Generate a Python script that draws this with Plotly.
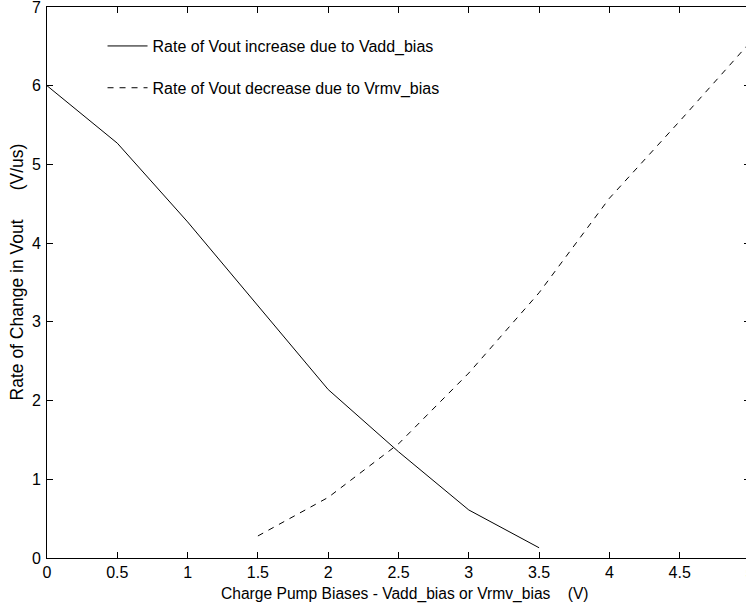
import plotly.graph_objects as go

# Data
x_add = [0, 0.5, 1, 1.5, 2, 2.5, 3, 3.5]
y_add = [6.0, 5.27, 4.27, 3.2, 2.14, 1.35, 0.61, 0.13]
x_rmv = [1.5, 2, 2.5, 3, 3.5, 4, 4.5, 5]
y_rmv = [0.28, 0.77, 1.45, 2.35, 3.37, 4.57, 5.55, 6.55]

name_add = "Rate of Vout increase due to Vadd_bias"
name_rmv = "Rate of Vout decrease due to Vrmv_bias"
x_ticks = [0, 0.5, 1, 1.5, 2, 2.5, 3, 3.5, 4, 4.5, 5]
x_ticktext = ["0", "0.5", "1", "1.5", "2", "2.5", "3", "3.5", "4", "4.5", "5"]
y_ticks = [0, 1, 2, 3, 4, 5, 6, 7]

NB = "\u00a0"
x_title = "Charge Pump Biases - Vadd_bias or Vrmv_bias" + NB * 4 + "(V)"
y_title = "Rate of Change in Vout" + NB * 6 + "(V/us)"

FONT = "Liberation Sans, Arial, Helvetica, sans-serif"
FS = 16

fig = go.Figure()
fig.add_trace(go.Scatter(x=x_add, y=y_add, mode="lines", name=name_add,
                         legendgroup="a",
                         line=dict(color="black", width=1)))
fig.add_trace(go.Scatter(x=x_rmv, y=y_rmv, mode="lines", name=name_rmv,
                         legendgroup="b",
                         line=dict(color="black", width=1, dash="6px,6px")))

axis_common = dict(showline=True, linecolor="black", linewidth=1,
                   mirror="ticks", ticks="inside", ticklen=6, tickcolor="black",
                   tickwidth=1, showgrid=False, zeroline=False,
                   automargin=False,
                   ticklabeloverflow="allow",
                   tickfont=dict(family=FONT, size=FS, color="black"))

fig.update_xaxes(range=[0, 5], tickvals=x_ticks, ticktext=x_ticktext,
                 ticklabelstandoff=0, **axis_common)
fig.update_yaxes(range=[0, 7], tickvals=y_ticks, ticklabelstandoff=2,
                 **axis_common)

# axis titles placed as annotations (offset from the plot centre as in the reference)
fig.add_annotation(text=x_title, xref="paper", yref="paper",
                   x=0.509, y=-0.0653, xanchor="center", yanchor="middle",
                   showarrow=False,
                   font=dict(family=FONT, size=15.6, color="black"))
fig.add_annotation(text=y_title, xref="paper", yref="paper",
                   x=-0.0413, y=0.52, xanchor="center", yanchor="middle",
                   textangle=-90, showarrow=False,
                   font=dict(family=FONT, size=17.5, color="black"))

fig.update_layout(
    width=754, height=608,
    margin=dict(l=47, r=4, t=7, b=50),
    paper_bgcolor="white", plot_bgcolor="white",
    font=dict(family=FONT, size=FS, color="black"),
    showlegend=True,
    legend=dict(x=0.079, y=0.96, xanchor="left", yanchor="top",
                bgcolor="rgba(0,0,0,0)", borderwidth=0,
                tracegroupgap=18, itemwidth=40,
                font=dict(family=FONT, size=FS, color="black")),
)

fig.write_html("out.html", config={"displayModeBar": False},
               post_script="document.body.style.margin='0';document.body.style.overflow='hidden';")
